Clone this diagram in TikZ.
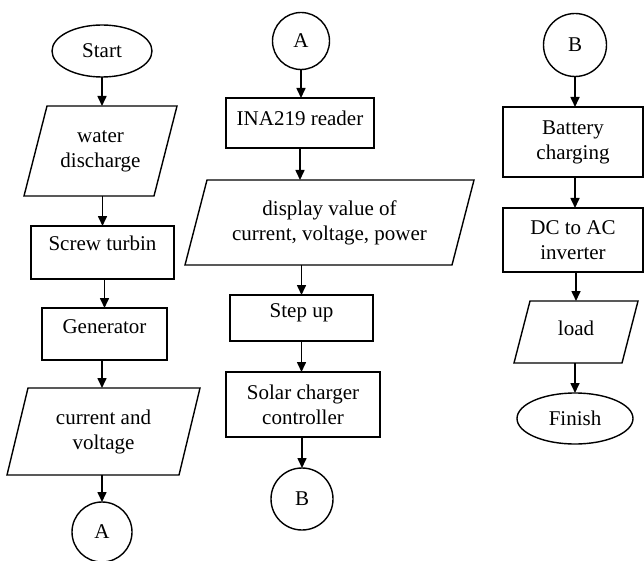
\documentclass[tikz,border=0pt]{standalone}
\usepackage{fontspec}
\setmainfont{Liberation Serif}
\usetikzlibrary{shapes.geometric,arrows.meta}
\tikzset{
 base/.style={draw, line width=1.4pt, inner sep=0pt, outer sep=0pt, font=\fontsize{21}{25}\selectfont, align=center},
 proc/.style={base, rectangle},
 io/.style={base, rectangle, draw=none},
 ioline/.style={line width=1.4pt, line join=miter},
 term/.style={base, ellipse},
 conn/.style={base, circle},
 arr/.style={line width=1.6pt, -{Triangle[length=10pt,width=9pt]}},
 txt/.style={font=\fontsize{21}{25}\selectfont, align=center, inner sep=0pt}
}
\newcommand{\parabox}[2]{\draw[ioline] ([xshift=#2]#1.north west) -- ([xshift=#2]#1.north east) -- ([xshift=-#2]#1.south east) -- ([xshift=-#2]#1.south west) -- cycle;}
\begin{document}
\begin{tikzpicture}[x=1pt,y=-1pt]
\useasboundingbox (0,0) rectangle (644,561);
% column 1
\node[term, minimum width=100pt, minimum height=52pt] (start) at (102,51) {Start};
\node[io, minimum width=130pt, minimum height=90pt] (wd) at (100.5,151) {water\\discharge};
\parabox{wd}{11.5pt}
\node[proc, minimum width=143pt, minimum height=53pt, label={[txt,yshift=9pt]center:Screw turbin}] (screw) at (102.5,252.5) {};
\node[proc, minimum width=125pt, minimum height=52pt, label={[txt,yshift=7pt]center:Generator}] (gen) at (104.5,334) {};
\node[io, minimum width=172pt, minimum height=87pt] (cv) at (103.5,431.5) {current and\\voltage};
\parabox{cv}{10.5pt}
\node[conn, minimum size=60pt] (a1) at (102,532) {A};
% column 2
\node[conn, minimum size=57pt] (a2) at (301,41) {A};
\node[proc, minimum width=148pt, minimum height=50pt, label={[txt,yshift=5pt]center:INA219 reader}] (ina) at (300,123) {};
\node[io, minimum width=267pt, minimum height=85pt] (dv) at (329.5,222.5) {display value of\\current, voltage, power};
\parabox{dv}{11pt}
\node[proc, minimum width=143pt, minimum height=46pt, label={[txt,yshift=5pt]center:Step up}] (step) at (301.5,318) {};
\node[proc, minimum width=154pt, minimum height=65pt] (solar) at (303,404.5) {Solar charger\\controller};
\node[conn, minimum size=62pt] (b1) at (302,499) {B};
% column 3
\node[conn, minimum size=63pt] (b2) at (575,45) {B};
\node[proc, minimum width=140pt, minimum height=70pt] (bat) at (573,142) {Battery\\charging};
\node[proc, minimum width=140pt, minimum height=64pt] (dc) at (573,240) {DC to AC\\inverter};
\node[io, minimum width=108pt, minimum height=62pt, label={[txt,yshift=4pt]center:load}] (load) at (576,332) {};
\parabox{load}{8pt}
\node[term, minimum width=116pt, minimum height=51pt] (fin) at (575,418.5) {Finish};
% arrows
\draw[arr] (start.south) -- (start.south |- wd.north);
\draw[arr] (screw.north |- wd.south) -- (screw.north);
\draw[arr] (gen.north |- screw.south) -- (gen.north);
\draw[arr] (a1.north |- gen.south) -- (a1.north |- cv.north);
\draw[arr] (a1.north |- cv.south) -- (a1.north);
\draw[arr] (a2.south) -- (a2.south |- ina.north);
\draw[arr] (ina.south) -- (ina.south |- dv.north);
\draw[arr] (step.north |- dv.south) -- (step.north);
\draw[arr] (step.south) -- (step.south |- solar.north);
\draw[arr] (b1.north |- solar.south) -- (b1.north);
\draw[arr] (b2.south) -- (b2.south |- bat.north);
\draw[arr] (b2.south |- bat.south) -- (b2.south |- dc.north);
\draw[arr] (load.north |- dc.south) -- (load.north);
\draw[arr] (fin.north |- load.south) -- (fin.north);
\end{tikzpicture}
\end{document}
